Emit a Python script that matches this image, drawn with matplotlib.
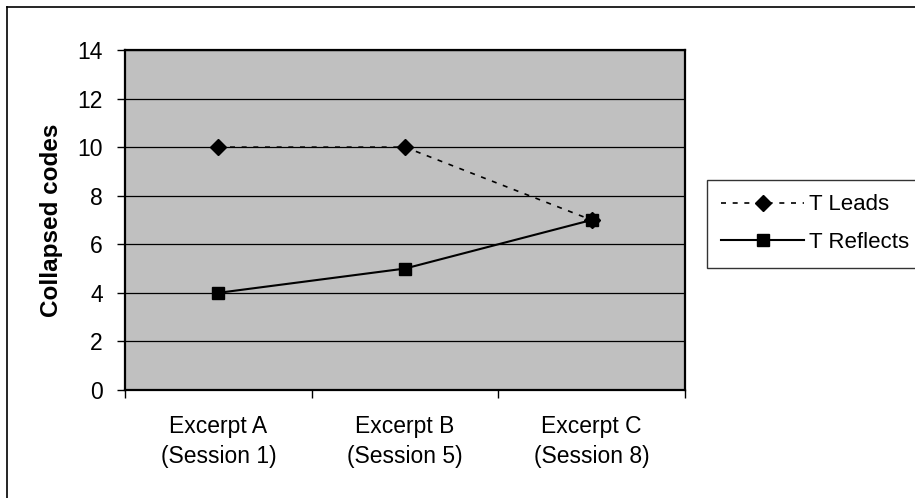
"""Collapsed codes per excerpt for the two teacher moves."""

import matplotlib

matplotlib.use("Agg")
import matplotlib.pyplot as plt
from matplotlib.lines import Line2D

plt.rcParams["font.family"] = ["Liberation Sans", "DejaVu Sans"]

EXCERPTS = ["Excerpt A\n(Session 1)", "Excerpt B\n(Session 5)", "Excerpt C\n(Session 8)"]
T_LEADS = [10, 10, 7]
T_REFLECTS = [4, 5, 7]
Y_TICKS = [0, 2, 4, 6, 8, 10, 12, 14]


def main():
    fig = plt.figure(figsize=(9.15, 4.98), dpi=100)
    ax = fig.add_axes([0.1366, 0.2169, 0.612, 0.6827])
    ax.set_facecolor("#c0c0c0")

    # categories sit between the tick marks, Excel style
    positions = [i + 0.5 for i in range(len(EXCERPTS))]

    ax.plot(
        positions, T_LEADS, color="black", linewidth=1.2, linestyle=(0, (3, 4)),
        marker="D", markersize=8, label="T Leads", zorder=3,
    )
    ax.plot(
        positions, T_REFLECTS, color="black", linewidth=1.5, linestyle="-",
        marker="s", markersize=8.5, label="T Reflects", zorder=3,
    )

    ax.set_xlim(0, len(EXCERPTS))
    ax.set_ylim(0, 14)
    ax.set_yticks(Y_TICKS)
    ax.yaxis.grid(True, color="black", linewidth=0.9)
    ax.set_axisbelow(True)

    ax.set_xticks(range(len(EXCERPTS) + 1))
    ax.set_xticklabels([])
    ax.set_xticks(positions, minor=True)
    ax.set_xticklabels(EXCERPTS, minor=True, fontsize=16.5, linespacing=1.4)
    ax.tick_params(axis="x", which="minor", length=0, pad=18)
    ax.tick_params(axis="x", which="major", length=6, width=1, direction="out")
    ax.tick_params(axis="y", length=6, width=1, direction="out", labelsize=16.5, pad=10)

    for side in ["top", "right", "left", "bottom"]:
        ax.spines[side].set_linewidth(1.6)

    ax.set_ylabel("Collapsed codes", fontsize=17.5, fontweight="bold", labelpad=10)

    legend = fig.legend(
        loc="upper left", bbox_to_anchor=(707 / 915, 1 - 180 / 498), borderaxespad=0,
        frameon=True, fancybox=False, edgecolor="black", fontsize=16,
        handlelength=3.7, handletextpad=0.25, borderpad=0.65, labelspacing=0.75,
    )
    legend.get_frame().set_linewidth(1.0)

    # chart border, only the top and left edges fall inside the image
    fig.add_artist(Line2D([7 / 915, 1], [1 - 7 / 498, 1 - 7 / 498],
                          transform=fig.transFigure, color="black", linewidth=1.2))
    fig.add_artist(Line2D([7 / 915, 7 / 915], [0, 1 - 7 / 498],
                          transform=fig.transFigure, color="black", linewidth=1.2))

    fig.savefig("out.png", dpi=100)
    plt.close(fig)


if __name__ == "__main__":
    main()
